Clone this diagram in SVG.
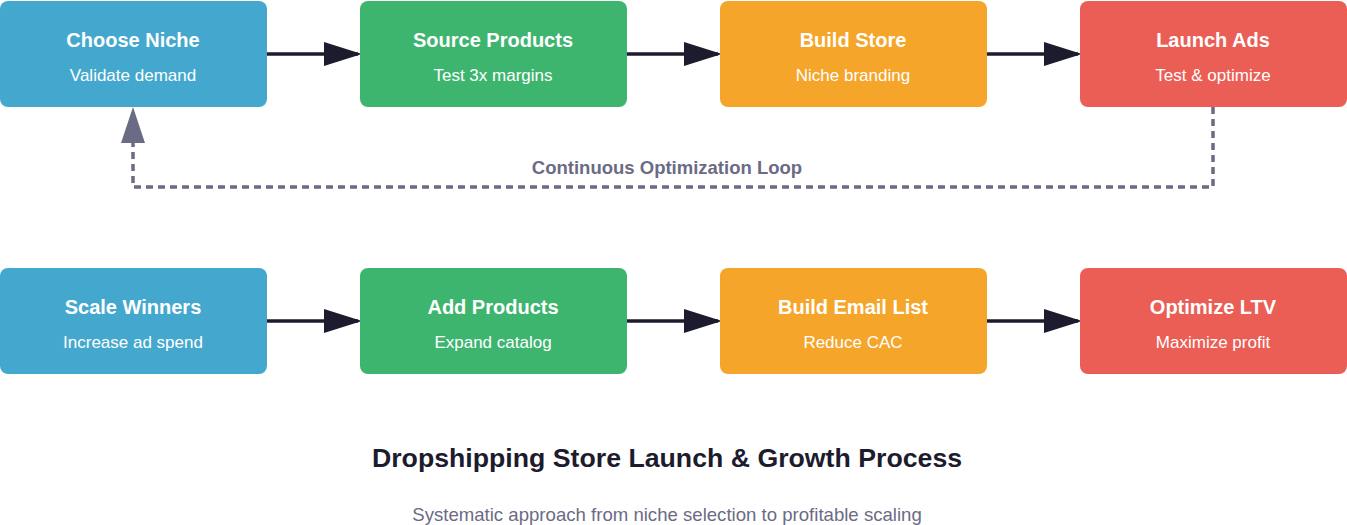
<svg xmlns="http://www.w3.org/2000/svg" width="1347" height="525" viewBox="0 0 1347 525">
<style>
.t{font-family:"Liberation Sans",Arial,sans-serif;font-weight:bold;font-size:20px;fill:#fff;text-anchor:middle}
.s{font-family:"Liberation Sans",Arial,sans-serif;font-size:17px;fill:#fff;text-anchor:middle}
.l{stroke:#1c1c2e;stroke-width:3.5}
.h{fill:#1c1c2e}
</style>
<g id="connectors">
<path class="l" d="M267,54H358"/><path class="h" d="M324,42L362,54L324,66z"/>
<path class="l" d="M627,54H718"/><path class="h" d="M684,42L722,54L684,66z"/>
<path class="l" d="M987,54H1078"/><path class="h" d="M1044,42L1082,54L1044,66z"/>
<path class="l" d="M267,321H358"/><path class="h" d="M324,309L362,321L324,333z"/>
<path class="l" d="M627,321H718"/><path class="h" d="M684,309L722,321L684,333z"/>
<path class="l" d="M987,321H1078"/><path class="h" d="M1044,309L1082,321L1044,333z"/>
<path d="M1213,107V187H133V143" stroke="#6b6b85" stroke-width="3.5" stroke-dasharray="7,5" fill="none"/>
<path d="M121,143L133,107L145,143z" fill="#6b6b85"/>
<text x="667" y="174" text-anchor="middle" font-family="Liberation Sans,Arial,sans-serif" font-weight="bold" font-size="18.5" fill="#6b6b85">Continuous Optimization Loop</text>
</g>
<g id="n1"><rect x="0" y="1" width="267" height="106" rx="8" fill="#44A8CE"/><text class="t" x="133" y="47">Choose Niche</text><text class="s" x="133" y="81">Validate demand</text></g>
<g id="n2"><rect x="360" y="1" width="267" height="106" rx="8" fill="#3DB56F"/><text class="t" x="493" y="47">Source Products</text><text class="s" x="493" y="81">Test 3x margins</text></g>
<g id="n3"><rect x="720" y="1" width="267" height="106" rx="8" fill="#F5A52A"/><text class="t" x="853" y="47">Build Store</text><text class="s" x="853" y="81">Niche branding</text></g>
<g id="n4"><rect x="1080" y="1" width="267" height="106" rx="8" fill="#EB5E55"/><text class="t" x="1213" y="47">Launch Ads</text><text class="s" x="1213" y="81">Test &amp; optimize</text></g>
<g id="n5"><rect x="0" y="268" width="267" height="106" rx="8" fill="#44A8CE"/><text class="t" x="133" y="314">Scale Winners</text><text class="s" x="133" y="348">Increase ad spend</text></g>
<g id="n6"><rect x="360" y="268" width="267" height="106" rx="8" fill="#3DB56F"/><text class="t" x="493" y="314">Add Products</text><text class="s" x="493" y="348">Expand catalog</text></g>
<g id="n7"><rect x="720" y="268" width="267" height="106" rx="8" fill="#F5A52A"/><text class="t" x="853" y="314">Build Email List</text><text class="s" x="853" y="348">Reduce CAC</text></g>
<g id="n8"><rect x="1080" y="268" width="267" height="106" rx="8" fill="#EB5E55"/><text class="t" x="1213" y="314">Optimize LTV</text><text class="s" x="1213" y="348">Maximize profit</text></g>
<text x="667" y="467" text-anchor="middle" font-family="Liberation Sans,Arial,sans-serif" font-weight="bold" font-size="26.7" fill="#1c1c2e">Dropshipping Store Launch &amp; Growth Process</text>
<text x="667" y="521" text-anchor="middle" font-family="Liberation Sans,Arial,sans-serif" font-size="18.6" fill="#6b6b85">Systematic approach from niche selection to profitable scaling</text>
</svg>
